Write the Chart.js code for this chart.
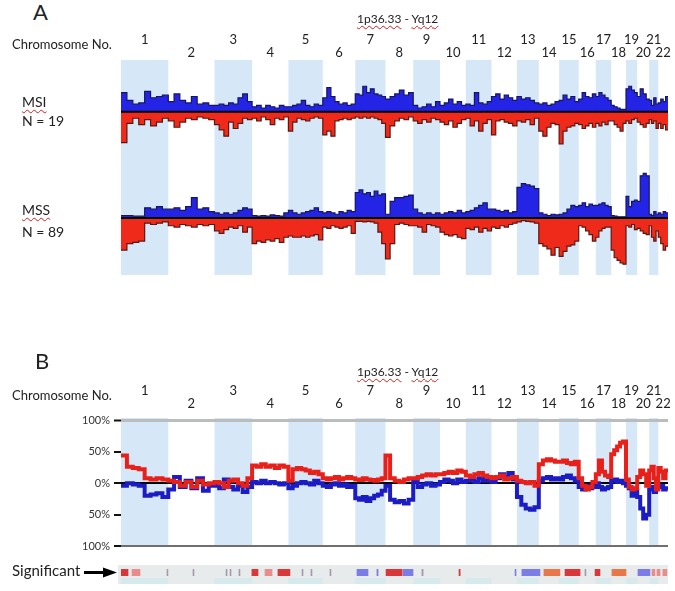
<!DOCTYPE html>
<html>
<head>
<meta charset="utf-8">
<script src="https://cdn.jsdelivr.net/npm/chart.js@4.4.1/dist/chart.umd.min.js"></script>
<style>
  html, body { margin: 0; padding: 0; background: #fff; }
  body { width: 675px; height: 591px; position: relative; overflow: hidden; font-family: Lato, 'Open Sans', sans-serif; color: #222; }
  canvas { position: absolute; left: 0; }
  .t { position: absolute; white-space: nowrap; line-height: 1; }
  .sp { text-decoration: underline wavy #d02020; text-decoration-thickness: 1px; text-underline-offset: 2px; }
</style>
</head>
<body>
<canvas id="msiChart" width="675" height="140" style="top:25px"></canvas>
<canvas id="mssChart" width="675" height="110" style="top:165px"></canvas>
<canvas id="diffChart" width="675" height="217" style="top:340px"></canvas>
<canvas id="sigChart" width="675" height="30" style="top:560px"></canvas>

<div class="t" style="left:33px;top:1px;font-size:22px">A</div>
<div class="t" style="left:357px;top:13px;font-size:12px"><span class="sp">1p36.33</span> - <span class="sp">Yq12</span></div>
<div class="t" style="left:12px;top:38px;font-size:13px">Chromosome No.</div>
<div class="t" style="left:22px;top:95px;font-size:14px"><span class="sp">MSI</span></div>
<div class="t" style="left:22px;top:114px;font-size:14px">N = 19</div>
<div class="t" style="left:22px;top:203px;font-size:14px"><span class="sp">MSS</span></div>
<div class="t" style="left:22px;top:225px;font-size:14px">N = 89</div>

<div class="t" style="left:35px;top:350px;font-size:22px">B</div>
<div class="t" style="left:357px;top:366px;font-size:12px"><span class="sp">1p36.33</span> - <span class="sp">Yq12</span></div>
<div class="t" style="left:12px;top:389px;font-size:13px">Chromosome No.</div>
<div class="t" style="left:12px;top:563px;font-size:15px">Significant</div>

<script>
// chromosomes and their lengths (Mb)
const chromosomes = ['1','2','3','4','5','6','7','8','9','10','11','12','13','14','15','16','17','18','19','20','21','22'];
const chromLengthMb = [249, 243, 198, 191, 181, 171, 159, 146, 141, 136, 135, 134, 115, 107, 103, 90, 81, 78, 59, 63, 48, 51];

// Panel A: frequency (%) of gains / losses per chromosome bin
const msiGain = [
  [30, 18, 12, 14, 32, 22, 24, 26], [16, 28, 18, 14, 24, 12, 14, 10], [10, 12, 10, 14, 12, 22, 28, 16],
  [8, 10, 6, 10, 8, 6, 10, 8], [8, 10, 12, 18, 10, 8, 12, 10], [22, 38, 24, 16, 12, 14, 10, 12],
  [28, 26, 40, 30, 36, 28, 26, 24], [20, 24, 28, 34, 26, 30], [10, 6, 8, 12, 8, 16],
  [10, 14, 20, 12, 16, 10], [12, 10, 30, 14, 12, 16], [24, 28, 20, 26, 22, 18],
  [24, 20, 22, 18, 14], [12, 14, 10, 12, 16], [18, 26, 20, 24, 16], [20, 30, 24, 22, 28],
  [24, 30, 26, 22, 18], [10, 8, 6, 4, 4], [36, 40, 34, 30], [24, 36, 28, 20], [18, 10, 22, 12], [14, 20, 16, 24]
];
const msiLoss = [
  [-48, -18, -10, -20, -12, -22, -16, -10], [-14, -24, -16, -10, -12, -8, -10, -12], [-20, -28, -38, -16, -26, -18, -10, -12],
  [-10, -14, -8, -12, -20, -10, -12, -8], [-30, -16, -10, -12, -14, -10, -8, -10], [-36, -30, -38, -14, -12, -10, -12, -10],
  [-8, -10, -8, -10, -8, -10, -12, -18], [-40, -22, -14, -10, -12, -8], [-14, -18, -12, -16, -10, -12],
  [-16, -20, -14, -24, -18, -12], [-10, -22, -14, -30, -18, -12], [-36, -14, -12, -16, -18, -22],
  [-14, -16, -12, -20, -10], [-30, -38, -24, -18, -20], [-50, -30, -24, -22, -18], [-20, -26, -22, -18, -24],
  [-18, -22, -16, -20, -14], [-14, -20, -24, -30, -18], [-14, -18, -12, -10], [-16, -20, -24, -18], [-12, -18, -14, -26], [-18, -26, -20, -28]
];
const mssGain = [
  [4, 4, 3, 3, 16, 14, 18, 14], [14, 16, 12, 18, 32, 14, 16, 10], [8, 6, 8, 6, 8, 12, 16, 14],
  [4, 3, 4, 3, 5, 4, 3, 8], [12, 8, 6, 8, 10, 12, 16, 10], [8, 10, 8, 6, 10, 8, 12, 10],
  [40, 44, 38, 40, 34, 42, 36, 38], [6, 26, 32, 32, 34, 36], [14, 8, 6, 8, 6, 8],
  [6, 8, 10, 8, 12, 8], [10, 12, 16, 20, 24, 14], [14, 12, 10, 12, 8, 10],
  [48, 54, 52, 50, 46], [8, 6, 4, 6, 5], [6, 8, 14, 20, 18], [20, 24, 18, 22, 20],
  [20, 22, 24, 20, 18], [4, 3, 2, 2, 2], [34, 18, 26, 28], [26, 66, 70, 66], [6, 4, 10, 6], [8, 6, 10, 8]
];
const mssLoss = [
  [-50, -40, -38, -36, -8, -10, -8, -6], [-12, -14, -10, -12, -14, -10, -12, -10], [-20, -24, -18, -14, -16, -12, -22, -14],
  [-40, -36, -38, -34, -36, -32, -38, -30], [-28, -30, -30, -28, -30, -28, -26, -34], [-14, -16, -12, -14, -16, -14, -12, -24],
  [-5, -5, -6, -5, -6, -8, -22, -40], [-64, -40, -10, -8, -10, -12], [-12, -14, -22, -10, -12, -14],
  [-22, -26, -28, -26, -30, -32], [-16, -18, -14, -22, -16, -20], [-14, -16, -12, -14, -10, -8],
  [-6, -4, -5, -6, -8], [-40, -44, -48, -58, -46], [-60, -52, -44, -42, -36], [-12, -14, -20, -26, -36],
  [-30, -20, -16, -14, -14], [-50, -62, -66, -70, -72], [-12, -14, -10, -18], [-16, -20, -24, -26], [-12, -30, -36, -20], [-30, -40, -50, -44]
];

// Panel B: differences (%) between groups
const diffLoss = [
  [44, 26, 24, 22, 8, 6, 8, 6], [4, 2, -4, 2, -6, 4, -2, 0], [2, 0, -6, 4, 6, 0, -4, 8],
  [28, 26, 30, 26, 28, 24, 28, 26], [4, 22, 24, 22, 20, 16, 18, 14], [8, 6, 8, 10, 6, 8, 10, 8],
  [6, 5, 8, 6, 5, 4, 6, 8], [44, 8, 4, 2, 6, 8], [8, 10, 12, 14, 12, 14],
  [14, 16, 18, 16, 20, 18], [12, 10, 14, 16, 12, 10], [8, 10, 12, 6, 8, 10],
  [4, 2, 0, 2, -4], [30, 36, 38, 36, 34], [34, 36, 32, 30, 34], [8, -4, -10, -6, 2],
  [14, 36, 18, 12, 10], [46, 52, 58, 64, 66], [6, -6, -10, -8], [10, 20, 14, -4], [20, 26, 8, -10], [24, 18, 8, 20]
];
const diffGain = [
  [-4, 0, -2, -4, -20, -18, -16, -22], [-10, 10, -6, 4, -8, 8, -12, -4], [-4, -8, 6, -6, -10, -4, -14, -6],
  [2, 0, 4, 0, 2, 0, -2, 0], [-8, -4, 0, 2, 0, -2, 4, 0], [-4, -6, -2, 0, -4, -2, -6, -4],
  [-24, -26, -22, -28, -24, -20, -18, -12], [-4, -26, -30, -28, -32, -26], [4, -6, -2, 0, -4, -2],
  [2, 6, 4, 0, 6, 2], [4, 6, 2, 8, 4, 6], [2, 8, 14, 10, 16, 6],
  [-22, -34, -40, -42, -38], [4, 8, 10, 6, 8], [6, 10, 12, 8, 4], [-6, -10, -4, -8, -6],
  [0, -6, -10, -8, -6], [4, 6, 2, 4, 0], [-4, -8, -20, -12], [-22, -40, -56, -50], [-10, -6, -14, -8], [-6, -4, -10, -8]
];
const diffTicks = [-100, -50, 0, 50, 100];

// significant regions, [start, end] in genome Mb
const sigRed = [[0, 37], [689, 721], [826, 889], [1395, 1479], [1779, 1785], [2337, 2416], [2495, 2521]];
const sigLightRed = [[58, 100], [758, 795], [2795, 2810], [2821, 2837], [2852, 2873]];
const sigBlue = [[1242, 1300], [1347, 1353], [1484, 1537], [2074, 2079], [2110, 2205], [2721, 2784]];
const sigOrange = [[2226, 2310], [2584, 2658]];
const sigTick = [[242, 247], [379, 384], [553, 558], [574, 579], [621, 626], [953, 958], [1000, 1005], [1100, 1105], [1584, 1590], [2442, 2447]];

const chromStart = [];
chromLengthMb.reduce((s, l, i) => { chromStart[i] = s; return s + l; }, 0);
const genomeEnd = chromStart[21] + chromLengthMb[21];

Chart.defaults.font.family = "Lato, 'Open Sans', sans-serif";

// step profile points from per-chromosome bins
function profile(bins) {
  const pts = [];
  bins.forEach((vals, c) => {
    const step = chromLengthMb[c] / vals.length;
    vals.forEach((v, i) => pts.push({ x: chromStart[c] + i * step, y: v }));
  });
  pts.push({ x: genomeEnd, y: pts[pts.length - 1].y });
  return pts;
}

const bandsPlugin = {
  id: 'chromBands',
  beforeDraw(chart, args, opts) {
    const { ctx, chartArea: a, scales: { x } } = chart;
    const up = opts.extendTop || 0, down = opts.extendBottom || 0;
    ctx.save();
    ctx.fillStyle = '#d6e8f8';
    chromosomes.forEach((c, i) => {
      if (i % 2) return;
      const x0 = x.getPixelForValue(chromStart[i]);
      const x1 = x.getPixelForValue(chromStart[i] + chromLengthMb[i]);
      ctx.fillRect(x0, a.top - up, x1 - x0, a.bottom - a.top + up + down);
    });
    ctx.restore();
  }
};

const labelsPlugin = {
  id: 'chromLabels',
  afterDraw(chart, args, opts) {
    if (!opts.show) return;
    const { ctx, chartArea: a, scales: { x } } = chart;
    ctx.save();
    ctx.font = "13px Lato, 'Open Sans', sans-serif";
    ctx.fillStyle = '#222';
    ctx.textAlign = 'center';
    ctx.textBaseline = 'middle';
    chromosomes.forEach((c, i) => {
      const xc = x.getPixelForValue(chromStart[i] + chromLengthMb[i] / 2);
      ctx.fillText(c, xc, a.top + (i % 2 ? opts.evenDy : opts.oddDy));
    });
    ctx.restore();
  }
};

function trackChart(id, gain, loss, yMin, yMax, padTop, labels) {
  return new Chart(document.getElementById(id), {
    type: 'line',
    data: {
      datasets: [
        { data: [{ x: 0, y: 0 }, { x: genomeEnd, y: 0 }], borderColor: '#000', borderWidth: 2, pointRadius: 0, fill: false },
        { data: profile(gain), stepped: true, fill: 'origin', backgroundColor: '#2424e6', borderColor: '#16165e', borderWidth: 1.2, pointRadius: 0 },
        { data: profile(loss), stepped: true, fill: 'origin', backgroundColor: '#ef2a1a', borderColor: '#5e1610', borderWidth: 1.2, pointRadius: 0 }
      ]
    },
    options: {
      responsive: false,
      animation: false,
      layout: { padding: { left: 121, right: 7, top: padTop, bottom: 0 } },
      scales: {
        x: { type: 'linear', min: 0, max: genomeEnd, display: false },
        y: { min: yMin, max: yMax, display: false }
      },
      plugins: { legend: { display: false }, tooltip: { enabled: false }, chromBands: {}, chromLabels: labels }
    },
    plugins: [bandsPlugin, labelsPlugin]
  });
}

trackChart('msiChart', msiGain, msiLoss, -83, 81, 35, { show: true, oddDy: -20, evenDy: -7 });
trackChart('mssChart', mssGain, mssLoss, -89, 83, 0, { show: false });

function gridStyle(v) {
  if (v === 100) return ['#b9bdbd', 3];
  if (v === -100) return ['#6f6f6f', 2];
  if (v === 0) return ['#000', 2];
  return ['rgba(0,0,0,0)', 0];
}

new Chart(document.getElementById('diffChart'), {
  type: 'line',
  data: {
    datasets: [
      { data: profile(diffLoss), stepped: true, borderColor: '#e8201a', borderWidth: 4, pointRadius: 0, fill: false },
      { data: profile(diffGain), stepped: true, borderColor: '#1c1cc4', borderWidth: 4, pointRadius: 0, fill: false }
    ]
  },
  options: {
    responsive: false,
    animation: false,
    layout: { padding: { left: 0, right: 7, top: 80, bottom: 8 } },
    scales: {
      x: { type: 'linear', min: 0, max: genomeEnd, display: false },
      y: {
        min: -100, max: 100,
        afterBuildTicks(s) { s.ticks = diffTicks.map(v => ({ value: v })); },
        afterFit(s) { s.width = 121; },
        border: { display: false },
        ticks: { padding: 4, color: '#333', font: { size: 11 }, callback: v => Math.abs(v) + '%' },
        grid: {
          color: c => gridStyle(c.tick.value)[0],
          lineWidth: c => gridStyle(c.tick.value)[1],
          tickColor: '#111', tickLength: 7, tickWidth: 2
        }
      }
    },
    plugins: {
      legend: { display: false }, tooltip: { enabled: false },
      chromBands: { extendTop: 2 },
      chromLabels: { show: true, oddDy: -29, evenDy: -16 }
    }
  },
  plugins: [bandsPlugin, labelsPlugin]
});

const sigPlugin = {
  id: 'sigTrack',
  beforeDraw(chart) {
    const { ctx, chartArea: a, scales: { x } } = chart;
    ctx.save();
    ctx.fillStyle = '#e7ebeb';
    ctx.fillRect(a.left - 3, a.top - 4, a.right - a.left + 3, a.bottom - a.top + 12);
    ctx.fillStyle = 'rgba(200,232,238,0.55)';
    chromosomes.forEach((c, i) => {
      if (i % 2) return;
      const x0 = x.getPixelForValue(chromStart[i]);
      const x1 = x.getPixelForValue(chromStart[i] + chromLengthMb[i]);
      ctx.fillRect(x0, a.bottom + 2, x1 - x0, 6);
    });
    ctx.restore();
  },
  afterDraw(chart) {
    const { ctx, chartArea: a } = chart;
    const y = (a.top + a.bottom) / 2;
    ctx.save();
    ctx.strokeStyle = '#000';
    ctx.lineWidth = 3;
    ctx.beginPath();
    ctx.moveTo(a.left - 37, y);
    ctx.lineTo(a.left - 15, y);
    ctx.stroke();
    ctx.fillStyle = '#000';
    ctx.beginPath();
    ctx.moveTo(a.left - 18, y - 5);
    ctx.lineTo(a.left - 4, y);
    ctx.lineTo(a.left - 18, y + 5);
    ctx.closePath();
    ctx.fill();
    ctx.restore();
  }
};

function sigSet(ranges, color) {
  return { data: ranges.map(r => ({ x: r, y: 'sig' })), backgroundColor: color, barThickness: 7, grouped: false, borderSkipped: false };
}

new Chart(document.getElementById('sigChart'), {
  type: 'bar',
  data: {
    labels: ['sig'],
    datasets: [
      sigSet(sigRed, '#d8383a'),
      sigSet(sigLightRed, '#e88c8c'),
      sigSet(sigBlue, '#7c7ce6'),
      sigSet(sigOrange, '#e8784a'),
      sigSet(sigTick, '#a896aa')
    ]
  },
  options: {
    indexAxis: 'y',
    responsive: false,
    animation: false,
    layout: { padding: { left: 121, right: 7, top: 9, bottom: 14 } },
    scales: {
      x: { type: 'linear', min: 0, max: genomeEnd, display: false },
      y: { display: false }
    },
    plugins: { legend: { display: false }, tooltip: { enabled: false } }
  },
  plugins: [sigPlugin]
});
</script>
</body>
</html>
